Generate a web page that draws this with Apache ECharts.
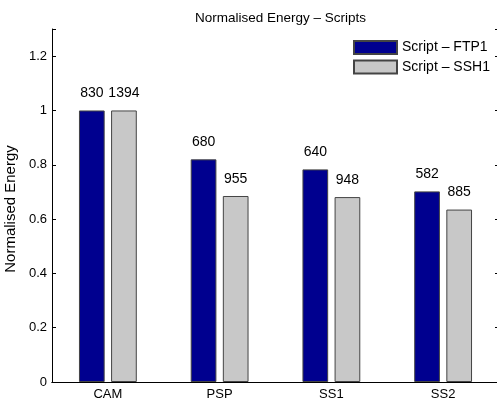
<!DOCTYPE html>
<html>
<head>
<meta charset="utf-8">
<script src="https://cdn.jsdelivr.net/npm/echarts@6/dist/echarts.min.js"></script>
<style>
html,body{margin:0;padding:0;background:#fff;}
#c{width:497px;height:403px;}
</style>
</head>
<body>
<div id="c"></div>
<script>
const categories = ['CAM', 'PSP', 'SS1', 'SS2'];
const seriesNames = ['Script \u2013 FTP1', 'Script \u2013 SSH1'];
const ftp1Values = [1.0, 0.82, 0.783, 0.702];
const ssh1Values = [1.0, 0.685, 0.681, 0.635];
const ftp1Labels = ['830', '680', '640', '582'];
const ssh1Labels = ['1394', '955', '948', '885'];
const yTicks = [0, 0.2, 0.4, 0.6, 0.8, 1, 1.2];

const FONT = '"Liberation Sans", Arial, Helvetica, sans-serif';
const chart = echarts.init(document.getElementById('c'), null, {renderer: 'canvas'});

function mkSeries(name, vals, labels, color) {
  return {
    name: name,
    type: 'bar',
    xAxisIndex: 0,
    yAxisIndex: 0,
    barWidth: '23%',
    barGap: '25%',
    data: vals,
    itemStyle: {color: color, borderColor: '#444', borderWidth: 1},
    label: {
      show: true,
      position: 'top',
      distance: 10,
      fontFamily: FONT,
      fontSize: 14,
      color: '#000',
      formatter: p => labels[p.dataIndex]
    },
    emphasis: {disabled: true},
    animation: false
  };
}

const option = {
  animation: false,
  backgroundColor: '#fff',
  title: {
    text: 'Normalised Energy \u2013 Scripts',
    left: 275.5,
    textAlign: 'center',
    top: 6,
    textStyle: {fontFamily: FONT, fontSize: 13.5, fontWeight: 'normal', color: '#000'}
  },
  legend: {
    orient: 'vertical',
    left: 353,
    top: 40,
    itemWidth: 43,
    itemHeight: 13,
    itemGap: 4.5,
    padding: 0,
    icon: 'rect',
    textStyle: {fontFamily: FONT, fontSize: 14, color: '#000'},
    data: seriesNames
  },
  grid: {left: 52, top: 29, width: 447, height: 353, containLabel: false, outerBoundsMode: 'none'},
  xAxis: [
    {
      type: 'category',
      data: categories,
      position: 'bottom',
      axisLine: {lineStyle: {color: '#000', width: 1}},
      axisTick: {inside: true, alignWithLabel: true, length: 4, lineStyle: {color: '#000'}},
      axisLabel: {fontFamily: FONT, fontSize: 13, color: '#000', margin: 6},
      splitLine: {show: false}
    },
    {
      type: 'category',
      data: categories,
      position: 'top',
      axisLine: {lineStyle: {color: '#000', width: 1}},
      axisTick: {inside: true, alignWithLabel: true, length: 4, lineStyle: {color: '#000'}},
      axisLabel: {show: false},
      splitLine: {show: false}
    }
  ],
  yAxis: [
    {
      type: 'value',
      min: 0,
      max: 1.3,
      interval: 0.2,
      position: 'left',
      name: 'Normalised Energy',
      nameLocation: 'middle',
      nameGap: 32,
      nameRotate: 90,
      nameTextStyle: {fontFamily: FONT, fontSize: 15, color: '#000', padding: [0, 7, 0, 0]},
      axisLine: {show: true, lineStyle: {color: '#000', width: 1}},
      axisTick: {show: true, inside: true, length: 4, lineStyle: {color: '#000'}},
      axisLabel: {
        fontFamily: FONT, fontSize: 13, color: '#000', margin: 5,
        formatter: v => (yTicks.some(t => Math.abs(t - v) < 1e-9) ? String(+v.toFixed(1)) : '')
      },
      splitLine: {show: false}
    },
    {
      type: 'value',
      min: 0,
      max: 1.3,
      interval: 0.2,
      position: 'right',
      axisLine: {show: true, lineStyle: {color: '#000', width: 1}},
      axisTick: {show: true, inside: true, length: 4, lineStyle: {color: '#000'}},
      axisLabel: {show: false},
      splitLine: {show: false}
    }
  ],
  series: [
    mkSeries(seriesNames[0], ftp1Values, ftp1Labels, '#00008F'),
    mkSeries(seriesNames[1], ssh1Values, ssh1Labels, '#C8C8C8')
  ]
};
chart.setOption(option);
</script>
</body>
</html>
